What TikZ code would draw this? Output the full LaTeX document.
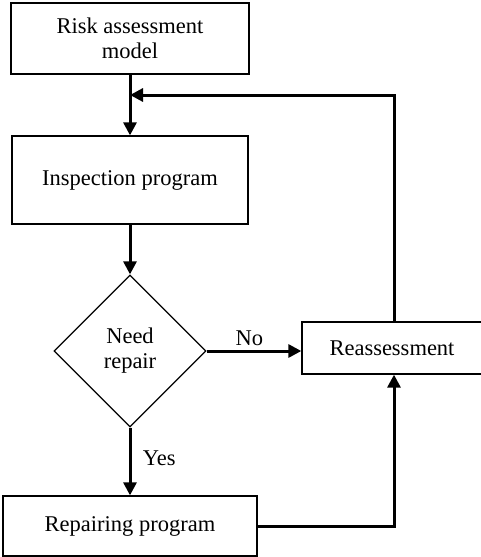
\documentclass[tikz,border=0pt]{standalone}
\usepackage{fontspec}
\setmainfont{Liberation Serif}
\usetikzlibrary{shapes.geometric,arrows.meta}
\begin{document}
\begin{tikzpicture}[x=1pt,y=-1pt,
  txt/.style={font=\fontsize{22.5}{25}\selectfont},
  box/.style={txt,draw,line width=1.3pt,rectangle,align=center,inner sep=0pt},
  decision/.style={txt,draw,line width=1.3pt,diamond,aspect=1,inner sep=0pt,align=center},
  flow/.style={line width=3pt,-{Triangle[length=13pt,width=13pt]}}]
\useasboundingbox (0,0) rectangle (481,557);
\node[box,minimum width=238pt,minimum height=71pt] (risk) at (130,38.5) {Risk assessment\\model};
\node[box,minimum width=236pt,minimum height=88pt] (insp) at (130,180) {Inspection program};
\node[decision,minimum width=152pt,minimum height=152pt] (need) at (130,351) {Need\\repair};
\node[box,minimum width=180pt,minimum height=52pt] (reas) at (392,348) {Reassessment};
\node[box,minimum width=254pt,minimum height=60pt] (rep) at (130,526) {Repairing program};
\coordinate (join) at (130,95);
\draw[flow] (risk.south) -- (insp.north);
\draw[flow] (insp.south) -- (need.north);
\draw[flow] (need.east) -- node[txt,above,pos=0.45,yshift=0pt] (no) {No} (need.east -| reas.west);
\draw[flow] (need.south) -- node[txt,right,pos=0.45,xshift=8pt] (yes) {Yes} (rep.north);
\draw[flow] (rep.east) -| (reas.south -| 394,0);
\draw[flow] (reas.north -| 394,0) |- (join);
\end{tikzpicture}
\end{document}
